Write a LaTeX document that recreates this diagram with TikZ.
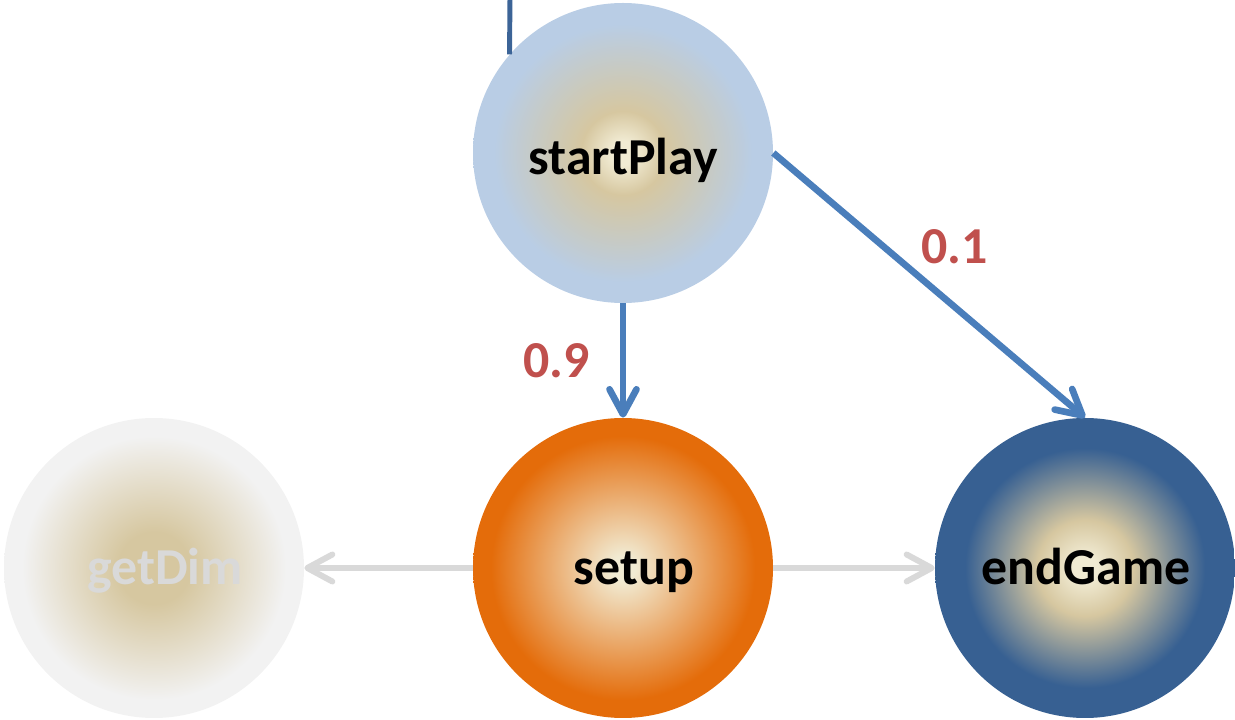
\documentclass[tikz,border=0pt]{standalone}
\usepackage{fontspec}
\setmainfont{Carlito}
\usetikzlibrary{arrows.meta}

\definecolor{glow}{HTML}{F1EBD3}
\definecolor{sand}{HTML}{D6C7A0}
\definecolor{skyblue}{HTML}{B9CDE5}
\definecolor{fireorange}{HTML}{E46C0A}
\definecolor{deepblue}{HTML}{376092}
\definecolor{ghost}{HTML}{F2F2F2}
\definecolor{ghosttext}{HTML}{D9D9D9}
\definecolor{flowblue}{HTML}{4A7EBB}
\definecolor{linkblue}{HTML}{3C6497}
\definecolor{weightred}{HTML}{C0504D}
\definecolor{idlegray}{HTML}{D9D9D9}

% radial fill (rim of the circle = 25bp): pale centre, middle ring, state colour
\newcommand{\stateshade}[5]{%
  \pgfdeclareradialshading{#1}{\pgfpoint{0bp}{0bp}}{%
    color(0bp)=(glow); color(2bp)=(glow); color(#4bp)=(#3);
    color(#5bp)=(#2); color(50bp)=(#2)}}
\stateshade{startshade}{skyblue}{sand}{7}{21.5}
\stateshade{setupshade}{fireorange}{glow!60!fireorange}{10}{22}
\stateshade{endshade}{deepblue}{sand}{8}{20}
\pgfdeclareradialshading{dimshade}{\pgfpoint{0bp}{0bp}}{%
  color(0bp)=(sand); color(6bp)=(sand); color(22bp)=(ghost); color(50bp)=(ghost)}

\tikzset{
    state/.style={circle, shade, minimum size=6cm, inner sep=0pt},
    statetext/.style={anchor=base, inner sep=0pt,
                      font=\fontsize{29.5}{34}\selectfont\bfseries},
    flow/.style={-{Straight Barb[length=5mm, width=5.4mm, round]},
                 line width=3.8pt, draw=flowblue},
    idle/.style={flow, draw=idlegray, line width=3.4pt},
    weight/.style={text=weightred, font=\fontsize{29.5}{34}\selectfont\bfseries},
}

\begin{document}
\begin{tikzpicture}
    \useasboundingbox (0,0) rectangle (24.7,14.4);

    \node[state, shading=startshade] (startPlay) at (12.46,11.34) {};
    \node[state, shading=setupshade] (setup) at (12.46,3.04) {};
    \node[state, shading=endshade] (endGame) at (21.7,3.04) {};
    \node[state, shading=dimshade] (getDim) at (3.08,3.04) {};

    \node[statetext] (startPlayText) at ([yshift=-0.44cm]startPlay.center) {startPlay};
    \node[statetext] (setupText) at ([xshift=0.22cm, yshift=-0.34cm]setup.center) {setup};
    \node[statetext] (endGameText) at ([xshift=0.02cm, yshift=-0.34cm]endGame.center) {endGame};
    \node[statetext, text=ghosttext] (getDimText) at ([xshift=0.22cm, yshift=-0.34cm]getDim.center) {getDim};

    \coordinate (entry) at (10.2,14.5);
    \draw[linkblue, line width=2.8pt] (entry) -- (startPlay.139);

    \draw[flow] (startPlay.south) -- node[weight, left=0.48cm] {0.9} (setup.north);
    \draw[flow] (startPlay.east) -- node[weight, pos=0.485, xshift=0.6cm, yshift=0.7cm] {0.1} (endGame.north);
    \draw[idle] (setup.west) -- (getDim.east);
    \draw[idle] (setup.east) -- (endGame.west);

\end{tikzpicture}
\end{document}
